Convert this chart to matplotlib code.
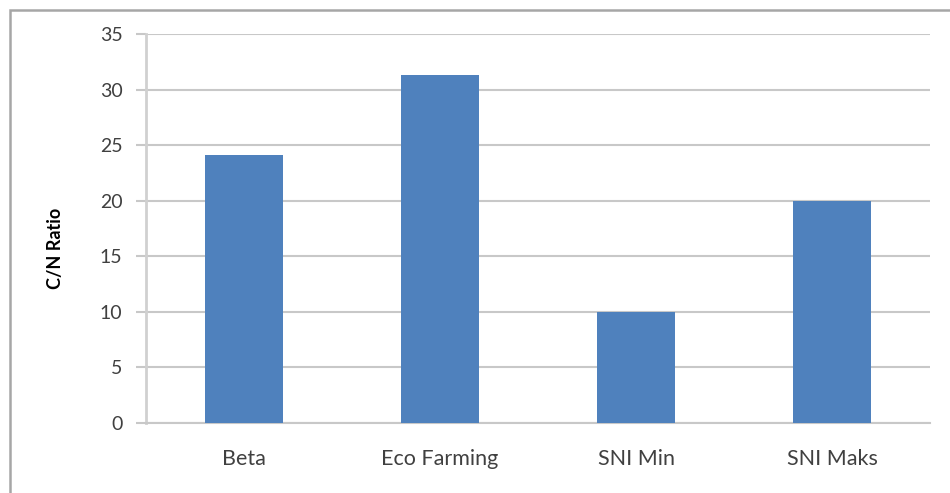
import matplotlib.pyplot as plt
from matplotlib.patches import Rectangle

categories = ["Beta", "Eco Farming", "SNI Min", "SNI Maks"]
cn_ratio = [24.1, 31.3, 10.0, 20.0]
yticks = [0, 5, 10, 15, 20, 25, 30, 35]

plt.rcParams['font.family'] = ['Lato', 'DejaVu Sans']

fig = plt.figure(figsize=(9.5, 4.93), dpi=100)
ax = fig.add_axes([146/950, 1 - 423/493, (930 - 146)/950, (423 - 34)/493])

# outer chart border (cut off on the right and bottom)
fig.patches.append(Rectangle((10/950, -0.2), 1.2, 0.2 + (493 - 9.5)/493,
                             transform=fig.transFigure, fill=False,
                             edgecolor='#a6a6a6', linewidth=1.8))

x = range(len(categories))
ax.bar(x, cn_ratio, width=0.4, color='#4f81bd', zorder=3)

ax.set_xlim(-0.5, len(categories) - 0.5)
ax.set_ylim(0, 35)
ax.set_yticks(yticks)
ax.set_xticks(list(x))
ax.set_xticklabels(categories)
ax.grid(axis='y', color='#c8c8c8', linewidth=1.5, zorder=0)

for s in ['top', 'right']:
    ax.spines[s].set_visible(False)
ax.spines['left'].set_color('#d0d0d0')
ax.spines['left'].set_linewidth(2)
ax.spines['bottom'].set_color('#c8c8c8')
ax.spines['bottom'].set_linewidth(1.5)

ax.tick_params(axis='y', length=7, width=1.5, color='#c8c8c8', labelsize=14,
               labelcolor='#404040', pad=10)
ax.tick_params(axis='x', length=0, labelsize=15.5, labelcolor='#404040', pad=19)

ax.set_ylabel('C/N Ratio', fontsize=13, fontweight='bold')
ax.yaxis.set_label_coords(-0.105, 0.45)

fig.savefig('out.png', dpi=100)
